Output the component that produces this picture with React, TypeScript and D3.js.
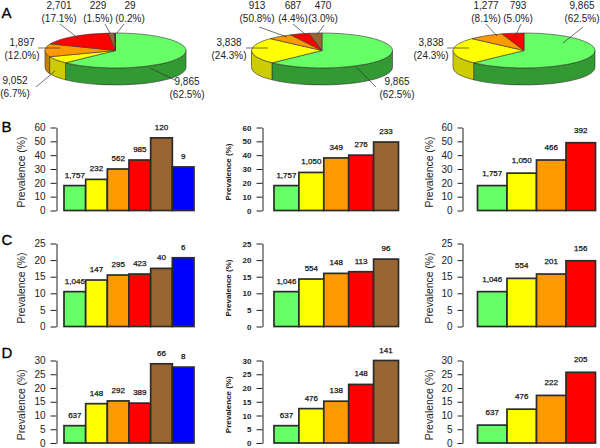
import { useEffect, useRef } from 'react';
import * as d3 from 'd3';

// group colours, same order everywhere
const topColors = ['#66ff66', '#ffff00', '#ff9900', '#ff0000', '#996633', '#0000ff'];
const sideColors = ['#339933', '#cccc00', '#cc7a00', '#cc0000', '#774d26', '#0000aa'];

// pies (A)
const pieCountsLeft = [9865, 1052, 1897, 2701, 229, 29];
const pieCountsMiddle = [9865, 3838, 913, 687, 470];
const pieCountsRight = [9865, 3838, 1277, 793];

const pieLabelsLeft = [
  ['9,865', '(62.5%)'], ['9,052', '(6.7%)'], ['1,897', '(12.0%)'],
  ['2,701', '(17.1%)'], ['229', '(1.5%)'], ['29', '(0.2%)'],
];
const pieLabelsMiddle = [
  ['9,865', '(62.5%)'], ['3,838', '(24.3%)'], ['913', '(50.8%)'],
  ['687', '(4.4%)'], ['470', '(3.0%)'],
];
const pieLabelsRight = [
  ['9,865', '(62.5%)'], ['3,838', '(24.3%)'], ['1,277', '(8.1%)'], ['793', '(5.0%)'],
];

// bars: prevalence, left to right
const prevB1 = [18, 22.5, 30, 36.5, 52.5, 31.5];
const prevB2 = [18, 27.5, 38, 40, 49.5];
const prevB3 = [18, 27, 36.5, 49];
const prevC1 = [10.5, 14, 15.5, 15.8, 17.5, 20.7];
const prevC2 = [10.5, 14.3, 16, 16.5, 20.3];
const prevC3 = [10.5, 14.5, 15.8, 19.8];
const prevD1 = [6.3, 14.3, 15.3, 14.5, 28.8, 27.6];
const prevD2 = [6.3, 12.5, 15.2, 21.3, 30];
const prevD3 = [6.5, 12.3, 17.3, 25.7];

const nB1 = ['1,757', '232', '562', '985', '120', '9'];
const nB2 = ['1,757', '1,050', '349', '276', '233'];
const nB3 = ['1,757', '1,050', '466', '392'];
const nC1 = ['1,046', '147', '295', '423', '40', '6'];
const nC2 = ['1,046', '554', '148', '113', '96'];
const nC3 = ['1,046', '554', '201', '156'];
const nD1 = ['637', '148', '292', '389', '66', '8'];
const nD2 = ['637', '476', '138', '148', '141'];
const nD3 = ['637', '476', '222', '205'];

const ticksB = [0, 10, 20, 30, 40, 50, 60];
const ticksC = [0, 5, 10, 15, 20, 25];
const ticksD = [0, 5, 10, 15, 20, 25, 30];
const yTitle = 'Prevalence (%)';

const FONT = '"Liberation Sans", Arial, sans-serif';

// layout only: text centre x, first line y, leader line x1,y1,x2,y2
const pies = [
  {
    counts: pieCountsLeft, labels: pieLabelsLeft, cx: 115.5, rx: 70.5,
    place: [
      [187, 85, 175, 80, 150, 68], [15, 84, 36, 87, 55, 71], [22, 46, 38, 48, 60, 48],
      [59, 9, 60, 24, 79, 39], [98, 9, 105, 24, 110, 33], [130, 9, 124, 24, 117, 33],
    ],
  },
  {
    counts: pieCountsMiddle, labels: pieLabelsMiddle, cx: 322, rx: 70.5,
    place: [
      [397, 85, 376, 87, 357, 68], [229, 46, 246, 48, 268, 48], [257, 9, 259, 27, 287, 37],
      [293, 9, 293, 24, 306, 35], [323, 9, 324, 25, 317, 35],
    ],
  },
  {
    counts: pieCountsRight, labels: pieLabelsRight, cx: 524, rx: 71,
    place: [
      [582, 9, 583, 27, 563, 43], [431, 46, 447, 48, 469, 48], [486, 9, 486, 24, 497, 36],
      [518, 9, 521, 24, 515, 37],
    ],
  },
];
const pieCy = 50.5;
const pieRy = 17.5;
const pieDepth = 17;

const columns = [
  { axisX: 56.5, left: 64, right: 194, labelSize: 10, weight: 'normal', titleX: 25, titleSize: 10.4, tickGap: 6, nOffset: 8 },
  { axisX: 262.5, left: 274, right: 398.5, labelSize: 8, weight: 'bold', titleX: 231, titleSize: 8, tickGap: 6, nOffset: 8 },
  { axisX: 462.5, left: 477.5, right: 595.5, labelSize: 10, weight: 'normal', titleX: 433, titleSize: 10.4, tickGap: 5, nOffset: 10 },
];

const rows = [
  { letter: 'B', letterY: 132, top: 127.5, bottom: 210.5, max: 60, ticks: ticksB, values: [prevB1, prevB2, prevB3], ns: [nB1, nB2, nB3] },
  { letter: 'C', letterY: 245, top: 243.5, bottom: 326.5, max: 25, ticks: ticksC, values: [prevC1, prevC2, prevC3], ns: [nC1, nC2, nC3] },
  { letter: 'D', letterY: 358, top: 360.5, bottom: 443, max: 30, ticks: ticksD, values: [prevD1, prevD2, prevD3], ns: [nD1, nD2, nD3] },
];

function drawPie(svg: any, cfg: (typeof pies)[number]) {
  const { counts, labels, cx, rx, place } = cfg;
  const slices = d3.pie<number>().sort(null).startAngle(0).endAngle(2 * Math.PI)(counts);
  const px = (a: number) => cx + rx * Math.sin(a);
  const py = (a: number) => pieCy - pieRy * Math.cos(a);

  // side wall, only the front half shows
  slices.forEach((s, i) => {
    const a0 = Math.max(s.startAngle, Math.PI / 2);
    const a1 = Math.min(s.endAngle, (3 * Math.PI) / 2);
    if (a0 >= a1) return;
    const d =
      `M${px(a0)},${py(a0)}A${rx},${pieRy} 0 0 1 ${px(a1)},${py(a1)}` +
      `L${px(a1)},${py(a1) + pieDepth}A${rx},${pieRy} 0 0 0 ${px(a0)},${py(a0) + pieDepth}Z`;
    svg.append('path').attr('d', d).attr('fill', sideColors[i])
      .attr('stroke', '#333').attr('stroke-width', 0.6);
  });

  const arc = d3.arc<d3.PieArcDatum<number>>().innerRadius(0).outerRadius(rx);
  svg.append('g')
    .attr('transform', `translate(${cx},${pieCy}) scale(1,${pieRy / rx})`)
    .selectAll('path')
    .data(slices)
    .join('path')
    .attr('d', arc)
    .attr('fill', (_: any, i: number) => topColors[i])
    .attr('stroke', '#333')
    .attr('stroke-width', 0.6)
    .attr('vector-effect', 'non-scaling-stroke');

  place.forEach((p, i) => {
    svg.append('line')
      .attr('x1', p[2]).attr('y1', p[3]).attr('x2', p[4]).attr('y2', p[5])
      .attr('stroke', '#333').attr('stroke-width', 0.7);
    labels[i].forEach((line, k) => {
      svg.append('text')
        .attr('x', p[0]).attr('y', p[1] + k * 13)
        .attr('text-anchor', 'middle')
        .attr('font-family', FONT).attr('font-size', 10).attr('fill', '#222')
        .text(line);
    });
  });
}

function drawBars(svg: any, col: (typeof columns)[number], row: (typeof rows)[number], c: number) {
  const values = row.values[c];
  const ns = row.ns[c];
  const x = d3.scaleBand<number>().domain(d3.range(values.length)).range([col.left, col.right]);
  const y = d3.scaleLinear().domain([0, row.max]).range([row.bottom, row.top]);

  const axis = svg.append('g')
    .attr('transform', `translate(${col.axisX},0)`)
    .call(d3.axisLeft(y).tickValues(row.ticks).tickSize(col.tickGap).tickSizeOuter(0).tickPadding(5));
  axis.selectAll('text')
    .attr('font-family', FONT).attr('font-size', col.labelSize)
    .attr('font-weight', col.weight).attr('fill', '#222');
  axis.selectAll('line,path').attr('stroke', '#222');

  svg.append('text')
    .attr('transform', `translate(${col.titleX},${(row.top + row.bottom) / 2 + 3}) rotate(-90)`)
    .attr('text-anchor', 'middle')
    .attr('font-family', FONT).attr('font-size', col.titleSize)
    .attr('font-weight', col.weight).attr('fill', '#222')
    .text(yTitle);

  svg.append('g').selectAll('rect')
    .data(values)
    .join('rect')
    .attr('x', (_: number, i: number) => x(i))
    .attr('y', (d: number) => y(d))
    .attr('width', x.bandwidth())
    .attr('height', (d: number) => y(0) - y(d))
    .attr('fill', (_: number, i: number) => topColors[i])
    .attr('stroke', '#2b2b2b')
    .attr('stroke-width', 1.7);

  // counts look heavy in the source, a thin stroke gets closer than bold
  svg.append('g').selectAll('text')
    .data(values)
    .join('text')
    .attr('x', (_: number, i: number) => x(i)! + x.bandwidth() / 2)
    .attr('y', (d: number) => y(d) - col.nOffset)
    .attr('text-anchor', 'middle')
    .attr('font-family', FONT).attr('font-size', 8)
    .attr('fill', '#111')
    .attr('stroke', '#111').attr('stroke-width', 0.25)
    .text((_: number, i: number) => ns[i]);
}

export default function App() {
  const ref = useRef<SVGSVGElement>(null);

  useEffect(() => {
    const svg = d3.select(ref.current);
    svg.selectAll('*').remove();

    pies.forEach(p => drawPie(svg, p));
    rows.forEach(row => columns.forEach((col, c) => drawBars(svg, col, row, c)));

    [{ letter: 'A', letterY: 18 }, ...rows].forEach(r => {
      svg.append('text')
        .attr('x', 1.5).attr('y', r.letterY)
        .attr('font-family', FONT).attr('font-size', 15)
        .attr('stroke', '#000').attr('stroke-width', 0.3)
        .text(r.letter);
    });
  }, []);

  return (
    <svg
      ref={ref}
      width={600}
      height={448}
      style={{ position: 'absolute', left: 0, top: 0, background: '#fff' }}
    />
  );
}
